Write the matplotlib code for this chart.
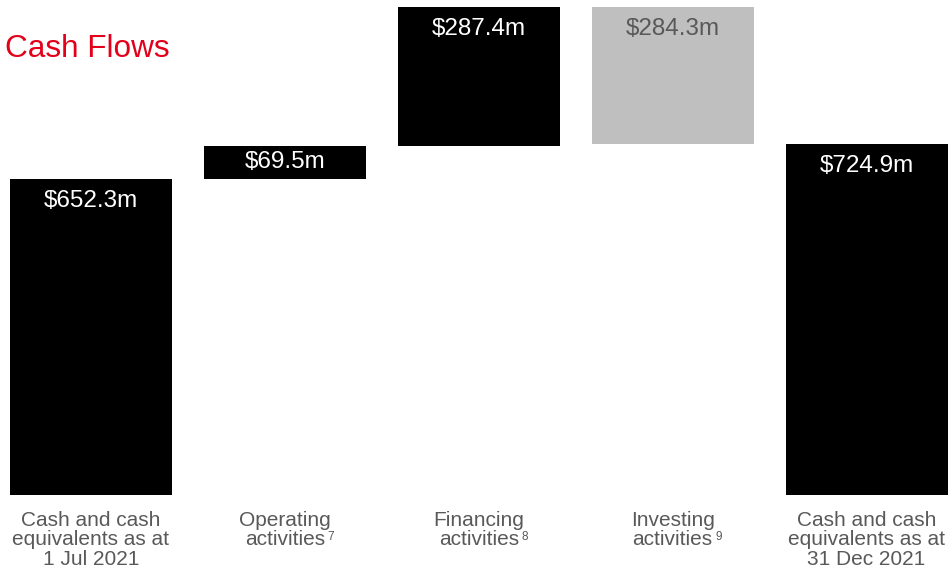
import matplotlib
matplotlib.use("Agg")
import matplotlib.pyplot as plt

plt.rcParams['font.family'] = ['Liberation Sans', 'DejaVu Sans']

# waterfall steps (A$m)
categories = ['Cash and cash\nequivalents as at\n1 Jul 2021',
              'Operating\nactivities',
              'Financing\nactivities',
              'Investing\nactivities',
              'Cash and cash\nequivalents as at\n31 Dec 2021']
footnotes = ['', '7', '8', '9', '']
opening = 652.3
operating = 69.5
financing = 287.4
investing = -284.3
closing = 724.9
value_labels = ['$652.3m', '$69.5m', '$287.4m', '$284.3m', '$724.9m']

changes = [operating, financing, investing]
heights = [opening] + [abs(c) for c in changes] + [closing]
bottoms = [0]
running = opening
for c in changes:
    bottoms.append(running if c >= 0 else running + c)
    running += c
bottoms.append(0)

bar_colors = ['black', 'black', 'black', '#bfbfbf', 'black']
text_colors = ['white', 'white', 'white', '#595959', 'white']

fig = plt.figure(figsize=(9.49, 5.70), dpi=100)
ax = fig.add_axes([0, 0, 1, 1])
ax.set_xlim(-0.469, 4.425)
ax.set_ylim(-155.6, 1023)
ax.axis('off')

x = list(range(len(heights)))
ax.bar(x, heights, bottom=bottoms, width=0.835, color=bar_colors)

px = 1 / 0.4825      # y data units per pixel
xpx = 1 / 193.9      # x data units per pixel
for i in x:
    top = bottoms[i] + heights[i]
    y = top - min(22 * px, heights[i] / 2)
    ax.text(i, y, value_labels[i], ha='center', va='center',
            fontsize=17.5, color=text_colors[i])

for i in x:
    # one text per line so the footnote can sit next to the last line
    lines = categories[i].split('\n')
    for k, line in enumerate(lines):
        ax.text(i, (-31 - 19.5 * k) * px, line, ha='center', va='baseline',
                fontsize=15, color='#595959')
    if footnotes[i]:
        ax.text(i + 43 * xpx, -36 * px, footnotes[i], ha='left', va='top',
                fontsize=8.5, color='#595959')

fig.text(5 / 949, 1 - 57 / 570, 'Cash Flows', fontsize=22.7, color='#e2001a',
         ha='left', va='baseline')

fig.savefig('out.png', dpi=100)
